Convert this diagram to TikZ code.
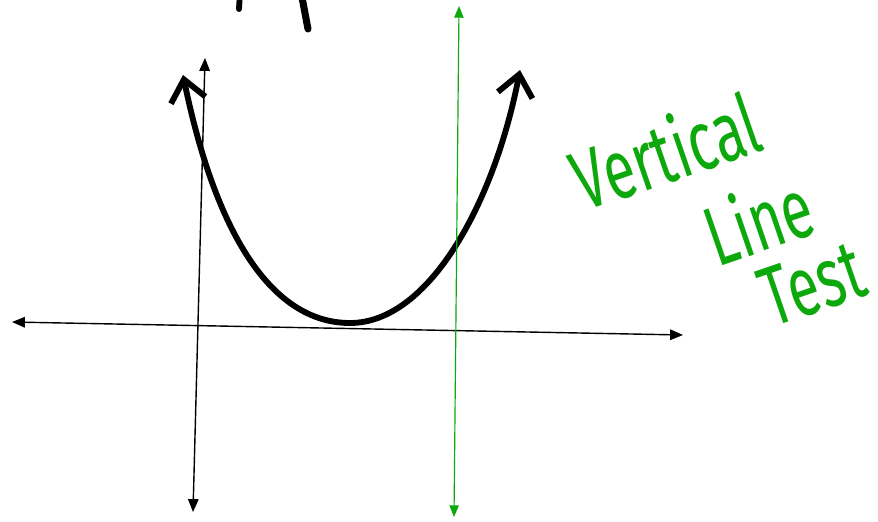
\documentclass[tikz,border=0pt]{standalone}
\usepackage{fontspec}
\setmainfont{Fira Sans}
\usetikzlibrary{arrows.meta}
\definecolor{testgreen}{RGB}{12,168,12}

\begin{document}
\begin{tikzpicture}[x=0.03cm, y=-0.03cm,
  axis/.style={line width=1.2pt, {Triangle[length=11pt,width=9pt]}-{Triangle[length=11pt,width=9pt]}},
  curve/.style={line width=5pt, line cap=round,
    {Straight Barb[length=18pt,width=30pt]}-{Straight Barb[length=18pt,width=30pt]}},
  vline/.style={testgreen, line width=1pt, {Triangle[length=10pt,width=8pt]}-{Triangle[length=10pt,width=8pt]}},
  words/.style={text=testgreen, rotate=19, inner sep=0pt, font=\fontsize{72}{76}\selectfont}]
  \useasboundingbox (0,0) rectangle (878,521);

  % axes
  \coordinate (xl) at (12,322);
  \coordinate (xr) at (683,335);
  \coordinate (yt) at (205,58);
  \coordinate (yb) at (193,512);
  \draw[axis] (xl) -- (xr);
  \draw[axis] (yt) -- (yb);

  % parabola
  \coordinate (pl) at (183,75);
  \coordinate (v) at (350,323);
  \coordinate (pr) at (520,70);
  \draw[curve] (pl) .. controls (215,230) and (270,323) .. (v)
    .. controls (430,323) and (495,200) .. (pr);

  % vertical line
  \coordinate (gt) at (459,6);
  \coordinate (gb) at (454,517);
  \draw[vline] (gt) -- (gb);

  % cut-off writing at the top
  \draw[line width=5pt, line cap=round] (240,-8) -- (239,9);
  \draw[line width=6pt, line cap=round] (301,-8) -- (308,29);

  \node[words] (vert) at (665,150) {\scalebox{0.67}[1]{Vertical}};
  \node[words] (line) at (758,219) {\scalebox{0.67}[1]{Line}};
  \node[words] (test) at (812,284) {\scalebox{0.67}[1]{Test}};
\end{tikzpicture}
\end{document}
